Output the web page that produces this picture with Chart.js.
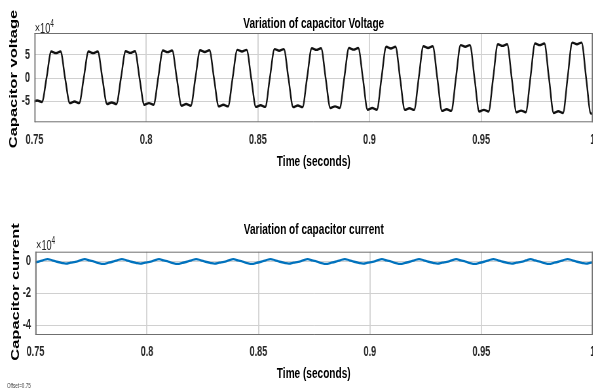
<!DOCTYPE html>
<html><head><meta charset="utf-8">
<script src="https://cdn.jsdelivr.net/npm/chart.js@4.4.1/dist/chart.umd.min.js"></script>
<style>
html,body{margin:0;padding:0;background:#fff;width:593px;height:390px;overflow:hidden}
#fig{position:absolute;left:0;top:0;width:905px;height:390px;transform:scaleX(0.655);transform-origin:0 0;font-family:'Liberation Sans',Arial,sans-serif}
canvas{position:absolute;left:0}
.t{position:absolute;white-space:nowrap;transform:translate(-50%,-50%);font-weight:bold;font-size:15.4px;color:#000;line-height:1}
.yl{position:absolute;white-space:nowrap;transform:translate(-50%,-50%) rotate(-90deg);font-weight:bold;font-size:16.5px;color:#000;line-height:1}
.exp{position:absolute;font-size:14px;color:#262626;white-space:nowrap;line-height:1}
.exp span{font-size:10px;position:relative;top:-6px}
.off{position:absolute;font-size:7px;color:#444;white-space:nowrap;line-height:1}
</style></head>
<body>
<div id="fig">
  <canvas id="cv" width="925" height="175" style="top:0"></canvas>
  <canvas id="ci" width="925" height="175" style="top:215px"></canvas>
  <div class="t" style="left:479px;top:22.5px">Variation of capacitor Voltage</div>
  <div class="t" style="left:479px;top:161px">Time (seconds)</div>
  <div class="yl" style="left:20.4px;top:79px">Capacitor voltage</div>
  <div class="exp" style="left:53px;top:21px">×10<span>4</span></div>
  <div class="t" style="left:479px;top:229px">Variation of capacitor current</div>
  <div class="t" style="left:479px;top:372.5px">Time (seconds)</div>
  <div class="yl" style="left:23.7px;top:292px">Capacitor current</div>
  <div class="exp" style="left:55px;top:238px">×10<span>4</span></div>
  <div class="off" style="left:10.7px;top:382px">Offset=0.75</div>
</div>
<script>
const time = [
0.74915,0.75123,0.75332,0.75540,0.75748,0.75957,0.76165,0.76373,
0.76582,0.76790,0.76999,0.77207,0.77415,0.77624,0.77832,0.78040,
0.78248,0.78456,0.78665,0.78873,0.79081,0.79290,0.79498,0.79706,
0.79915,0.80123,0.80332,0.80540,0.80748,0.80957,0.81165,0.81373,
0.81582,0.81790,0.81999,0.82207,0.82415,0.82624,0.82832,0.83040,
0.83248,0.83456,0.83665,0.83873,0.84081,0.84290,0.84498,0.84706,
0.84915,0.85123,0.85332,0.85540,0.85748,0.85957,0.86165,0.86373,
0.86582,0.86790,0.86999,0.87207,0.87415,0.87624,0.87832,0.88040,
0.88248,0.88456,0.88665,0.88873,0.89081,0.89290,0.89498,0.89706,
0.89915,0.90123,0.90332,0.90540,0.90748,0.90957,0.91165,0.91373,
0.91582,0.91790,0.91999,0.92207,0.92415,0.92624,0.92832,0.93040,
0.93248,0.93456,0.93665,0.93873,0.94081,0.94290,0.94498,0.94706,
0.94915,0.95123,0.95332,0.95540,0.95748,0.95957,0.96165,0.96373,
0.96582,0.96790,0.96999,0.97207,0.97415,0.97624,0.97832,0.98040,
0.98248,0.98456,0.98665,0.98873,0.99081,0.99290,0.99498,0.99706,
0.99915,1.00123];

const voltage = [
-5.10,-4.80,-5.10,0.1,5.70,5.35,5.70,-0.1,
-5.35,-5.00,-5.35,0.1,5.70,5.35,5.70,-0.1,
-5.55,-5.20,-5.55,0.1,5.75,5.40,5.75,-0.1,
-5.70,-5.35,-5.70,0.1,5.90,5.55,5.90,-0.1,
-5.90,-5.55,-5.90,0.1,5.95,5.60,5.95,-0.1,
-6.05,-5.70,-6.05,0.1,6.05,5.70,6.05,-0.1,
-6.15,-5.80,-6.15,0.1,6.20,5.85,6.20,-0.1,
-6.20,-5.85,-6.20,0.1,6.40,6.05,6.40,-0.1,
-6.40,-6.05,-6.40,0.1,6.45,6.10,6.45,-0.1,
-6.75,-6.40,-6.75,0.1,6.70,6.35,6.70,-0.1,
-6.80,-6.45,-6.80,0.1,6.80,6.45,6.80,-0.1,
-7.00,-6.65,-7.00,0.1,7.05,6.70,7.05,-0.1,
-7.15,-6.80,-7.15,0.1,7.25,6.90,7.25,-0.1,
-7.30,-6.95,-7.30,0.1,7.40,7.05,7.40,-0.1,
-7.45,-7.10,-7.45,0.1,7.60,7.25,7.60,-0.1,
-7.60,-7.25];

const current = [
-0.10,-0.03,0.06,0.14,0.06,-0.03,-0.10,-0.15,
-0.09,-0.04,0.05,0.13,0.05,-0.02,-0.11,-0.16,
-0.10,-0.03,0.06,0.14,0.06,-0.03,-0.10,-0.15,
-0.09,-0.04,0.05,0.13,0.05,-0.02,-0.11,-0.16,
-0.10,-0.03,0.06,0.14,0.06,-0.03,-0.10,-0.15,
-0.09,-0.04,0.05,0.13,0.05,-0.02,-0.11,-0.16,
-0.10,-0.03,0.06,0.14,0.06,-0.03,-0.10,-0.15,
-0.09,-0.04,0.05,0.13,0.05,-0.02,-0.11,-0.16,
-0.10,-0.03,0.06,0.14,0.06,-0.03,-0.10,-0.15,
-0.09,-0.04,0.05,0.13,0.05,-0.02,-0.11,-0.16,
-0.10,-0.03,0.06,0.14,0.06,-0.03,-0.10,-0.15,
-0.09,-0.04,0.05,0.13,0.05,-0.02,-0.11,-0.16,
-0.10,-0.03,0.06,0.14,0.06,-0.03,-0.10,-0.15,
-0.09,-0.04,0.05,0.14,0.05,-0.02,-0.11,-0.16,
-0.10,-0.03,0.06,0.14,0.06,-0.03,-0.10,-0.15,
-0.09,-0.04];

const timeTicks = [0.75, 0.8, 0.85, 0.9, 0.95, 1];
const voltTicks = [-5, 0, 5];
const currTicks = [-4, -2, 0];
const voltRange = [-9.45, 9.65];
const currRange = [-4.62, 0.6];
const timeRange = [0.75, 1];

const boxPlugin = {
  id: 'box',
  afterDraw(chart) {
    const {ctx, chartArea: a} = chart;
    ctx.save();
    ctx.strokeStyle = '#6f6f6f';
    ctx.lineWidth = 1;
    ctx.beginPath();
    ctx.moveTo(a.left, a.top + 0.5); ctx.lineTo(a.right, a.top + 0.5);
    ctx.moveTo(a.left, a.bottom - 0.5); ctx.lineTo(a.right, a.bottom - 0.5);
    ctx.stroke();
    ctx.lineWidth = 1.6;
    ctx.beginPath();
    ctx.moveTo(a.left + 0.8, a.top); ctx.lineTo(a.left + 0.8, a.bottom);
    ctx.moveTo(a.right - 0.8, a.top); ctx.lineTo(a.right - 0.8, a.bottom);
    ctx.stroke();
    ctx.restore();
  }
};

const tickFont = {family: "'Liberation Sans', Arial, sans-serif", size: 14, weight: 'bold'};

function makeChart(id, series, color, lw, interp, yTicks, yRange, lay) {
  return new Chart(document.getElementById(id), {
    type: 'line',
    data: {datasets: [{
      data: time.map((t, i) => ({x: t, y: series[i]})),
      borderColor: color, borderWidth: lw, pointRadius: 0,
      cubicInterpolationMode: interp, tension: 0.4, fill: false, clip: 0
    }]},
    options: {
      responsive: false, animation: false, devicePixelRatio: 1,
      layout: {padding: {left: 0, top: lay.top, right: 20, bottom: 0}},
      plugins: {legend: {display: false}, tooltip: {enabled: false}, title: {display: false}},
      scales: {
        x: {
          type: 'linear', min: timeRange[0], max: timeRange[1],
          afterBuildTicks: s => { s.ticks = timeTicks.map(v => ({value: v})); },
          afterFit: s => { s.height = lay.xh; },
          border: {display: false},
          grid: {color: '#d6d6d6', lineWidth: 2, drawTicks: false},
          ticks: {font: tickFont, color: '#262626', padding: 9, maxRotation: 0, autoSkip: false,
                  callback: v => String(v)}
        },
        y: {
          type: 'linear', min: yRange[0], max: yRange[1],
          afterBuildTicks: s => { s.ticks = yTicks.map(v => ({value: v})); },
          afterFit: s => { s.width = lay.yw; },
          border: {display: false},
          grid: {color: '#d0d0d0', lineWidth: 1, drawTicks: false},
          ticks: {font: tickFont, color: '#262626', padding: 7, callback: v => String(v)}
        }
      }
    },
    plugins: [boxPlugin]
  });
}

makeChart('cv', voltage, '#111111', 2.4, 'monotone', voltTicks, voltRange, {top: 33, xh: 52.7, yw: 52.7});
makeChart('ci', current, '#0072BD', 2.3, 'default', currTicks, currRange, {top: 36.7, xh: 55, yw: 54.2});
</script>
</body></html>
